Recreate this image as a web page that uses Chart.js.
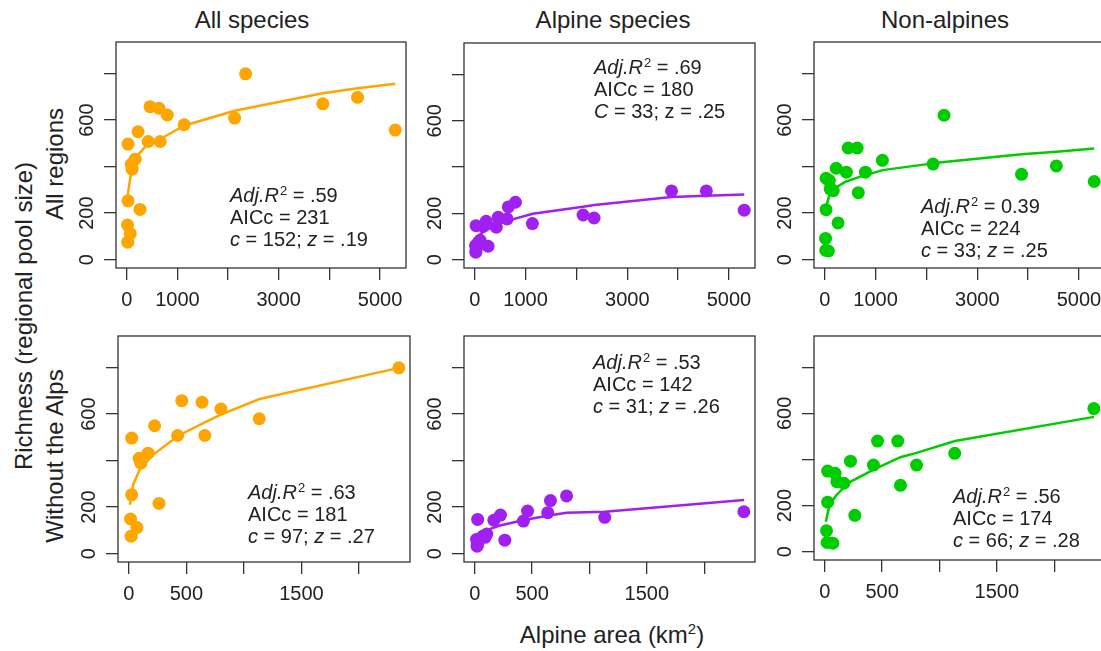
<!DOCTYPE html>
<html>
<head>
<meta charset="utf-8">
<script src="https://cdn.jsdelivr.net/npm/chart.js@4.4.0/dist/chart.umd.min.js"></script>
<style>
body { margin:0; width:1101px; height:651px; overflow:hidden; background:#fff; position:relative;
       font-family:"Liberation Sans", Arial, sans-serif; color:#222; }
.panel { position:absolute; }
.lbl { position:absolute; white-space:nowrap; font-size:24px; }
.ctr { transform:translate(-50%,-50%); }
.rot { transform:translate(-50%,-50%) rotate(-90deg); }
sup { font-size:15px; }
</style>
</head>
<body>
<div class="lbl ctr" style="left:252px;top:20px">All species</div>
<div class="lbl ctr" style="left:613px;top:20px">Alpine species</div>
<div class="lbl ctr" style="left:945px;top:20px">Non-alpines</div>
<div class="lbl rot" style="left:24px;top:316px">Richness (regional pool size)</div>
<div class="lbl rot" style="left:55px;top:164px">All regions</div>
<div class="lbl rot" style="left:55px;top:456px">Without the Alps</div>
<div class="lbl ctr" style="left:612px;top:634px">Alpine area (km<sup>2</sup>)</div>

<div class="panel" style="left:71px;top:22px"><canvas id="p1" width="343" height="296"></canvas></div>
<div class="panel" style="left:419px;top:23px"><canvas id="p2" width="344" height="295"></canvas></div>
<div class="panel" style="left:769px;top:22px"><canvas id="p3" width="344" height="296"></canvas></div>
<div class="panel" style="left:73px;top:316px"><canvas id="p4" width="345" height="296"></canvas></div>
<div class="panel" style="left:419px;top:316px"><canvas id="p5" width="344" height="296"></canvas></div>
<div class="panel" style="left:769px;top:316px"><canvas id="p6" width="344" height="294"></canvas></div>

<script>
// regions outside the Alps (17) and Alpine regions (4)
const areaNonAlps = [25, 25, 262, 15, 70, 20, 90, 105, 167, 224, 424, 460, 636, 660, 800, 1133, 2346];
const areaAlps = [2130, 3870, 4555, 5300];

const allNonAlps = [497, 253, 216, 149, 112, 75, 410, 389, 432, 550, 508, 658, 651, 508, 622, 580, 799];
const allAlps = [609, 670, 698, 557];
const alpineNonAlps = [147, 40, 58, 61, 75, 32, 70, 84, 144, 166, 140, 183, 176, 228, 248, 156, 180];
const alpineAlps = [193, 297, 297, 214];
const otherNonAlps = [350, 215, 158, 91, 37, 40, 340, 304, 297, 393, 376, 480, 480, 288, 376, 427, 621];
const otherAlps = [411, 367, 403, 336];

// fitted power curves, read at their vertices
const fitAreaTop = [13, 80, 180, 410, 670, 1140, 2130, 2350, 3870, 4560, 5300];
const fitAllTop = [268, 365, 440, 497, 520, 577, 640, 650, 716, 737, 756];
const fitAlpineTop = [80, 105, 122, 148, 170, 198, 229, 236, 271, 276, 281];
const fitOtherTop = [215, 270, 305, 335, 355, 385, 414, 420, 453, 464, 478];

const fitAreaBottom = [9, 40, 100, 210, 430, 660, 800, 1135, 2348];
const fitAllBottom = [210, 300, 367, 425, 507, 565, 598, 665, 799];
const fitAlpineBottom = [55, 78, 100, 120, 145, 165, 176, 180, 231];
const fitOtherBottom = [130, 200, 245, 300, 357, 410, 429, 480, 585];

const xTicksTop = [0, 1000, 2000, 3000, 4000, 5000];
const xLabelsTop = ['0', '1000', '', '3000', '', '5000'];
const xTicksBottom = [0, 500, 1000, 1500, 2000];
const xLabelsBottom = ['0', '500', '', '1500', ''];
const yTicks = [0, 200, 400, 600, 800];
const yLabels = ['0', '200', '', '600', ''];

const ORANGE = '#FFA500', PURPLE = '#A020F0', GREEN = '#00CD00';
const FONT = '"Liberation Sans", Arial, sans-serif';

let pairs = (xs, ys) => xs.map((x, i) => ({x: x, y: ys[i]}));

// frame box + the fit statistics text
const framePlugin = {
    id: 'frame',
    afterDraw(chart, args, opts) {
        const ctx = chart.ctx;
        const a = chart.chartArea;
        ctx.save();
        ctx.strokeStyle = '#333';
        ctx.lineWidth = 1.3;
        ctx.strokeRect(a.left, a.top, a.right - a.left, a.bottom - a.top);
        ctx.fillStyle = '#222';
        ctx.textBaseline = 'alphabetic';
        let y = a.top + opts.y + 7;
        opts.lines.forEach(line => {
            let x = a.left + opts.x;
            line.forEach(seg => {
                let txt = seg[0], st = seg[1];
                if (st === 'sup') {
                    ctx.font = '13px ' + FONT;
                    ctx.fillText(txt, x + 1, y - 7);
                    x += ctx.measureText(txt).width + 1;
                } else {
                    ctx.font = (st === 'i' ? 'italic ' : '') + '20px ' + FONT;
                    ctx.fillText(txt, x, y);
                    x += ctx.measureText(txt).width;
                }
            });
            y += 22;
        });
        ctx.restore();
    }
};

let makePanel = (id, top, color, pts, fit, anno) => {
    const xTicks = top ? xTicksTop : xTicksBottom;
    const xLabels = top ? xLabelsTop : xLabelsBottom;
    new Chart(document.getElementById(id), {
        type: 'scatter',
        data: {
            datasets: [{
                type: 'line',
                data: fit,
                borderColor: color,
                borderWidth: 2.5,
                pointRadius: 0,
                tension: 0,
                fill: false
            }, {
                data: pts,
                backgroundColor: color,
                borderWidth: 0,
                pointRadius: 6.5,
                pointHoverRadius: 6.5
            }]
        },
        options: {
            responsive: false,
            animation: false,
            layout: {padding: {top: 20, right: 8, left: 0, bottom: 0}},
            plugins: {
                legend: {display: false},
                tooltip: {enabled: false},
                frame: anno
            },
            scales: {
                x: {
                    type: 'linear',
                    min: top ? -212 : -94,
                    max: top ? 5512 : 2443,
                    afterFit: s => { s.height = 50; },
                    afterBuildTicks: s => { s.ticks = xTicks.map(v => ({value: v})); },
                    grid: {drawOnChartArea: false, drawTicks: true, tickLength: 12, color: '#333', lineWidth: 1.3},
                    border: {display: false},
                    ticks: {
                        autoSkip: false, maxRotation: 0, padding: 8, color: '#222',
                        font: {family: FONT, size: 20},
                        callback: v => xLabels[xTicks.indexOf(v)]
                    }
                },
                y: {
                    type: 'linear',
                    min: -36,
                    max: 936,
                    afterFit: s => { s.width = 45; },
                    afterBuildTicks: s => { s.ticks = yTicks.map(v => ({value: v})); },
                    grid: {drawOnChartArea: false, drawTicks: true, tickLength: 12, color: '#333', lineWidth: 1.3},
                    border: {display: false},
                    ticks: {
                        autoSkip: false, minRotation: 90, maxRotation: 90, crossAlign: 'center',
                        padding: 0, color: '#222',
                        font: {family: FONT, size: 20},
                        callback: v => yLabels[yTicks.indexOf(v)]
                    }
                }
            }
        },
        plugins: [framePlugin]
    });
};

const areaAll = areaNonAlps.concat(areaAlps);

makePanel('p1', true, ORANGE, pairs(areaAll, allNonAlps.concat(allAlps)), pairs(fitAreaTop, fitAllTop),
    {x: 114, y: 153, lines: [[['Adj.R', 'i'], ['2', 'sup'], [' = .59', '']], [['AICc = 231', '']], [['c', 'i'], [' = 152; ', ''], ['z', 'i'], [' = .19', '']]]});
makePanel('p2', true, PURPLE, pairs(areaAll, alpineNonAlps.concat(alpineAlps)), pairs(fitAreaTop, fitAlpineTop),
    {x: 130, y: 24, lines: [[['Adj.R', 'i'], ['2', 'sup'], [' = .69', '']], [['AICc = 180', '']], [['C', 'i'], [' = 33; z = .25', '']]]});
makePanel('p3', true, GREEN, pairs(areaAll, otherNonAlps.concat(otherAlps)), pairs(fitAreaTop, fitOtherTop),
    {x: 107, y: 164, lines: [[['Adj.R', 'i'], ['2', 'sup'], [' = 0.39', '']], [['AICc = 224', '']], [['c', 'i'], [' = 33; ', ''], ['z', 'i'], [' = .25', '']]]});
makePanel('p4', false, ORANGE, pairs(areaNonAlps, allNonAlps), pairs(fitAreaBottom, fitAllBottom),
    {x: 130, y: 156, lines: [[['Adj.R', 'i'], ['2', 'sup'], [' = .63', '']], [['AICc = 181', '']], [['c', 'i'], [' = 97; ', ''], ['z', 'i'], [' = .27', '']]]});
makePanel('p5', false, PURPLE, pairs(areaNonAlps, alpineNonAlps), pairs(fitAreaBottom, fitAlpineBottom),
    {x: 129, y: 26, lines: [[['Adj.R', 'i'], ['2', 'sup'], [' = .53', '']], [['AICc = 142', '']], [['c', 'i'], [' = 31; ', ''], ['z', 'i'], [' = .26', '']]]});
makePanel('p6', false, GREEN, pairs(areaNonAlps, otherNonAlps), pairs(fitAreaBottom, fitOtherBottom),
    {x: 139, y: 160, lines: [[['Adj.R', 'i'], ['2', 'sup'], [' = .56', '']], [['AICc = 174', '']], [['c', 'i'], [' = 66; ', ''], ['z', 'i'], [' = .28', '']]]});
</script>
</body>
</html>
